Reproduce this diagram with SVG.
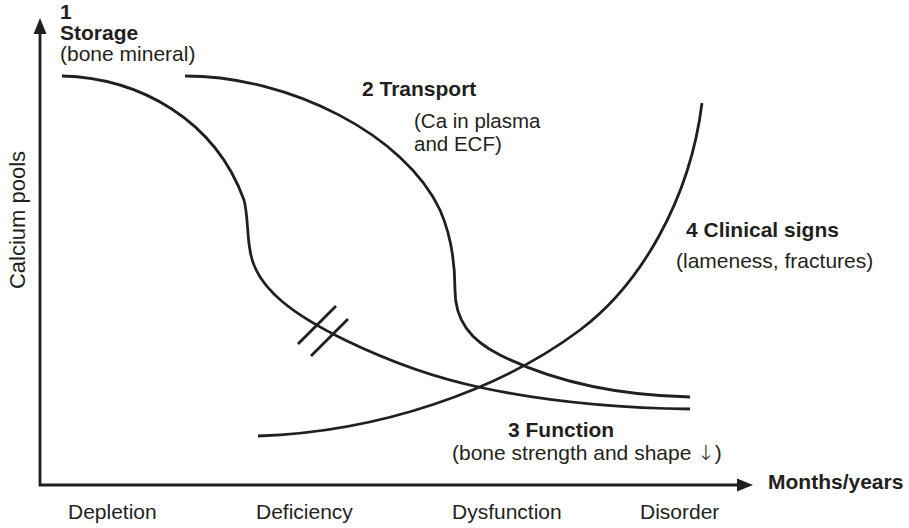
<svg xmlns="http://www.w3.org/2000/svg" width="909" height="528" viewBox="0 0 909 528">
  <style>
    .ln { fill: none; stroke: #231f20; stroke-width: 2.8; stroke-linecap: butt; }
    .ax { fill: none; stroke: #231f20; stroke-width: 2.8; stroke-linejoin: miter; }
    .head { fill: #231f20; }
    text { font-family: "Liberation Sans", Arial, Helvetica, sans-serif; font-size: 21px; fill: #231f20; }
    .b { font-weight: bold; }
    .arrow-glyph { font-family: "DejaVu Sans", sans-serif; font-weight: 200; }
  </style>
  <rect width="909" height="528" fill="#ffffff"/>

  <!-- axes -->
  <g id="axes">
    <path class="ax" d="M40,33 V485 H738"/>
    <polygon class="head" points="40,18 46.5,34 33.5,34"/>
    <polygon class="head" points="753,485 737,478.5 737,491.5"/>
  </g>

  <!-- calcium pool curves -->
  <g id="curves">
    <!-- 1 storage, falling to function -->
    <path id="curve-storage" class="ln" d="M62,76 C140,78 215,120 244,200 C248,215 247,235 250,250 C255,290 300,318 345,340 C380,357 430,377 483,388 C540,400 610,408 690,409"/>
    <!-- 2 transport -->
    <path id="curve-transport" class="ln" d="M185,76 C290,76 405,135 440,210 C451,235 455,265 455,290 C455,320 470,340 500,355 C540,375 600,395 690,397"/>
    <!-- 4 clinical signs, rising -->
    <path id="curve-clinical" class="ln" d="M258,436 C380,432 500,390 580,330 C640,285 690,200 702,103"/>
    <!-- break marks -->
    <g id="break-marks">
      <line class="ln" x1="298" y1="344" x2="336" y2="306"/>
      <line class="ln" x1="311" y1="356" x2="348" y2="319"/>
    </g>
  </g>

  <g id="label-storage">
    <text class="b" x="60" y="19">1</text>
    <text class="b" x="60" y="40">Storage</text>
    <text x="60" y="61">(bone mineral)</text>
  </g>
  <g id="label-transport">
    <text class="b" x="362" y="96">2 Transport</text>
    <text x="414" y="128" style="font-size:20.5px">(Ca in plasma</text>
    <text x="414" y="151" style="font-size:20.5px">and ECF)</text>
  </g>
  <g id="label-clinical">
    <text class="b" x="686" y="237">4 Clinical signs</text>
    <text x="676" y="268">(lameness, fractures)</text>
  </g>
  <g id="label-function">
    <text class="b" x="508" y="437">3 Function</text>
    <text x="452" y="460">(bone strength and shape <tspan class="arrow-glyph">↓</tspan>)</text>
  </g>
  <g id="axis-labels">
    <text class="b" x="768" y="489">Months/years</text>
    <text x="25" y="220" text-anchor="middle" transform="rotate(-90 25 220)" style="font-size:22px">Calcium pools</text>
    <text x="68" y="519">Depletion</text>
    <text x="256" y="519">Deficiency</text>
    <text x="452" y="519">Dysfunction</text>
    <text x="640" y="519">Disorder</text>
  </g>
</svg>
